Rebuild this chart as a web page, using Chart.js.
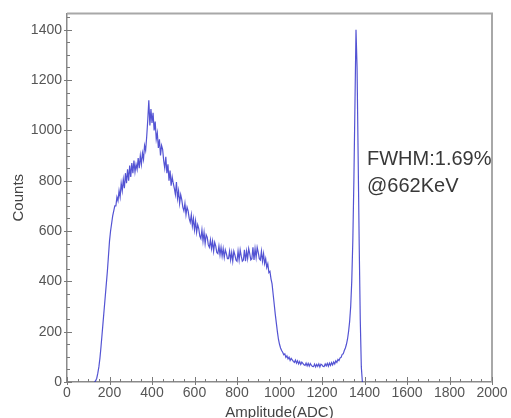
<!DOCTYPE html>
<html>
<head>
<meta charset="utf-8">
<script src="https://cdn.jsdelivr.net/npm/chart.js@4"></script>
<style>
  html, body { margin: 0; padding: 0; background: #fff; }
  #wrap { width: 511px; height: 418px; }
</style>
</head>
<body>
<div id="wrap"><canvas id="spectrum" width="511" height="418"></canvas></div>
<script>
'use strict';

// --- DATA ---
const channelStart = 130;   // first channel of the counts list
const channelStep = 5;      // channel bin width
const counts = [
  0, 5, 15, 35, 60, 95, 140, 190, 240, 290,                // 130-175
  340, 390, 440, 500, 560, 600, 630, 660, 680, 700,        // 180-225
  700, 735, 720, 760, 735, 790, 760, 805, 770, 830,        // 230-275
  790, 845, 800, 860, 815, 870, 830, 880, 835, 865,        // 280-325
  845, 890, 850, 900, 865, 910, 885, 940, 920, 975,        // 330-375
  1040, 1120, 1020, 1085, 1030, 1070, 1000, 1035, 965, 990, // 380-425
  930, 965, 900, 940, 925, 880, 850, 895, 830, 865,        // 430-475
  800, 840, 780, 815, 790, 770, 745, 795, 730, 760,        // 480-525
  710, 745, 725, 695, 680, 710, 665, 695, 680, 650,        // 530-575
  635, 665, 620, 650, 605, 640, 595, 625, 610, 580,        // 580-625
  570, 605, 560, 595, 550, 585, 575, 545, 535, 565,        // 630-675
  530, 560, 520, 555, 540, 515, 510, 540, 505, 535,        // 680-725
  500, 530, 495, 525, 510, 490, 490, 520, 485, 515,        // 730-775
  480, 520, 505, 485, 480, 520, 485, 525, 500, 480,        // 780-825
  485, 525, 480, 520, 490, 530, 510, 485, 490, 535,        // 830-875
  485, 530, 495, 535, 515, 490, 485, 520, 480, 510,        // 880-925
  470, 490, 455, 470, 435, 440, 410, 390, 350, 310,        // 930-975
  270, 235, 200, 170, 150, 135, 125, 118, 108, 112,        // 980-1025
  98, 104, 92, 99, 86, 94, 88, 82, 78, 87,                 // 1030-1075
  75, 84, 72, 81, 70, 79, 74, 68, 66, 75,                  // 1080-1125
  64, 74, 63, 73, 66, 62, 61, 71, 60, 70,                  // 1130-1175
  62, 72, 60, 71, 68, 62, 61, 72, 64, 74,                  // 1180-1225
  63, 75, 66, 77, 68, 80, 72, 84, 78, 90,                  // 1230-1275
  85, 96, 98, 110, 112, 125, 135, 150, 170, 200,           // 1280-1325
  240, 300, 400, 560, 800, 1100, 1400, 1250, 900, 550,     // 1330-1375
  250, 60, 0                                               // 1380-1390
];
const xTickValues = [0, 200, 400, 600, 800, 1000, 1200, 1400, 1600, 1800, 2000];
const yTickValues = [0, 200, 400, 600, 800, 1000, 1200, 1400];
const noteLines = ['FWHM:1.69%', '@662KeV'];
const xTitle = 'Amplitude(ADC)';
const yTitle = 'Counts';

// --- BUILD POINTS ---
const points = counts.map((c, i) => ({ x: channelStart + i * channelStep, y: c }));

const fontFamily = '"Liberation Sans", Arial, sans-serif';

// frame, minor ticks, axis titles and the FWHM note
const decorPlugin = {
  id: 'decor',
  afterDraw(chart) {
    const { ctx, chartArea: area, scales } = chart;
    const xs = scales.x, ys = scales.y;
    ctx.save();

    // top + right frame
    ctx.strokeStyle = '#a8a8a8';
    ctx.lineWidth = 2;
    ctx.beginPath();
    ctx.moveTo(area.left, area.top);
    ctx.lineTo(area.right, area.top);
    ctx.lineTo(area.right, area.bottom);
    ctx.stroke();

    // tick marks, major every 200 and minor every 50
    ctx.strokeStyle = '#7a7a7a';
    ctx.lineWidth = 1;
    ctx.beginPath();
    for (let v = 0; v <= 1450; v += 50) {
      const y = Math.round(ys.getPixelForValue(v)) + 0.5;
      const major = v % 200 === 0;
      ctx.moveTo(area.left - (major ? 3 : 0), y);
      ctx.lineTo(area.left + (major ? 5 : 3), y);
    }
    for (let v = 0; v <= 2000; v += 50) {
      const x = Math.round(xs.getPixelForValue(v)) + 0.5;
      const major = v % 200 === 0;
      ctx.moveTo(x, area.bottom + (major ? 3 : 0));
      ctx.lineTo(x, area.bottom - (major ? 5 : 3));
    }
    ctx.stroke();

    // axis titles
    ctx.fillStyle = '#444';
    ctx.textAlign = 'center';
    ctx.textBaseline = 'middle';
    ctx.font = '15px ' + fontFamily;
    ctx.fillText(xTitle, (area.left + area.right) / 2, 413);
    ctx.save();
    ctx.translate(19, (area.top + area.bottom) / 2);
    ctx.rotate(-Math.PI / 2);
    ctx.font = '15px ' + fontFamily;
    ctx.fillText(yTitle, 0, 0);
    ctx.restore();

    // annotation
    ctx.fillStyle = '#383838';
    ctx.textAlign = 'left';
    ctx.textBaseline = 'alphabetic';
    ctx.font = '20px ' + fontFamily;
    ctx.fillText(noteLines[0], 367, 165);
    ctx.fillText(noteLines[1], 367, 192);

    ctx.restore();
  }
};

const tickFont = { family: fontFamily, size: 14 };
const plainLabel = (v) => String(v);

new Chart(document.getElementById('spectrum'), {
  type: 'line',
  data: {
    datasets: [{
      data: points,
      borderColor: 'rgba(40, 40, 200, 0.8)',
      borderWidth: 1.2,
      pointRadius: 0,
      tension: 0,
      fill: false
    }]
  },
  options: {
    responsive: false,
    animation: false,
    devicePixelRatio: 1,
    layout: { padding: { top: 13, right: 19, left: 0, bottom: 0 } },
    plugins: { legend: { display: false }, tooltip: { enabled: false } },
    scales: {
      x: {
        type: 'linear',
        min: 0,
        max: 2000,
        afterFit: (scale) => { scale.height = 36; },
        afterBuildTicks: (scale) => { scale.ticks = xTickValues.map(v => ({ value: v })); },
        grid: { display: false, drawTicks: false },
        border: { display: true, color: '#8a8a8a', width: 1.5 },
        ticks: { color: '#555', font: tickFont, padding: 3, maxRotation: 0, autoSkip: false, callback: plainLabel }
      },
      y: {
        type: 'linear',
        min: 0,
        max: 1465,
        afterFit: (scale) => { scale.width = 67; },
        afterBuildTicks: (scale) => { scale.ticks = yTickValues.map(v => ({ value: v })); },
        grid: { display: false, drawTicks: false },
        border: { display: true, color: '#8a8a8a', width: 1.5 },
        ticks: { color: '#555', font: tickFont, padding: 5, callback: plainLabel }
      }
    }
  },
  plugins: [decorPlugin]
});
</script>
</body>
</html>
